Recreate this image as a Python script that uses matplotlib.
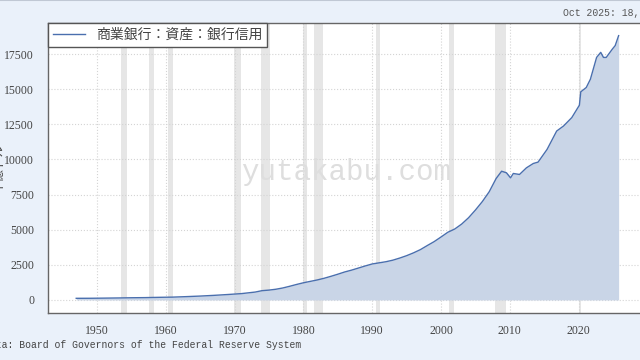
import numpy as np
import matplotlib
matplotlib.use('Agg')
import matplotlib.pyplot as plt
from matplotlib.lines import Line2D

plt.rcParams['font.family'] = ['Liberation Serif', 'Noto Sans CJK JP', 'DejaVu Sans']

# bank credit, all commercial banks (billions USD)
years = [1947, 1949, 1951, 1953, 1955, 1957, 1959, 1961, 1963, 1965, 1967, 1969,
         1971, 1973, 1974, 1975, 1976, 1977, 1978, 1979, 1980, 1981, 1982, 1983,
         1984, 1985, 1986, 1987, 1988, 1989, 1990, 1991, 1992, 1993, 1994, 1995,
         1996, 1997, 1998, 1999, 2000, 2001, 2002, 2003, 2004, 2005, 2006, 2007,
         2008.0, 2008.8, 2009.5, 2010.1, 2010.5, 2011.4, 2012.4, 2013.4, 2014.1,
         2015.4, 2016.8, 2017.8, 2019.0, 2020.1, 2020.3, 2021.1, 2021.7, 2022.6,
         2023.2, 2023.6, 2024.0, 2024.9, 2025.3, 2025.8]
credit = [115, 118, 128, 140, 155, 165, 185, 200, 235, 275, 325, 385,
          450, 560, 660, 700, 760, 850, 970, 1100, 1220, 1320, 1420, 1540,
          1680, 1830, 1990, 2120, 2270, 2420, 2560, 2640, 2720, 2830, 2980, 3150,
          3350, 3580, 3870, 4150, 4480, 4820, 5050, 5400, 5850, 6400, 7000, 7700,
          8640, 9160, 9050, 8690, 9000, 8930, 9400, 9710, 9810,
          10710, 12020, 12380, 12980, 13860, 14810, 15120, 15710, 17260,
          17620, 17260, 17260, 17860, 18100, 18810]

# NBER recessions
rec_start = [1953.5, 1957.6, 1960.3, 1969.9, 1973.8, 1980.0, 1981.5, 1990.5, 2001.2, 2007.9, 2020.1]
rec_end = [1954.4, 1958.3, 1961.1, 1970.9, 1975.2, 1980.5, 1982.9, 1991.2, 2001.9, 2009.5, 2020.3]

bg = '#eaf1fa'
line_c = '#4a6fae'

fig = plt.figure(figsize=(6.4, 3.6), dpi=100, facecolor=bg)
ax = fig.add_axes([48/640, 1-313/360, 0.94, (313-23)/360])
ax.set_facecolor('white')

for s, e in zip(rec_start, rec_end):
    ax.axvspan(s, e, color='#e6e6e6', lw=0, zorder=0)

ax.fill_between(years, credit, 0, color='#c9d5e7', lw=0, zorder=1)
ax.plot(years, credit, color=line_c, lw=1.0, zorder=2)

ax.set_xlim(1942.9, 2030.3)
ax.set_ylim(-930, 19710)
ax.set_xticks(range(1950, 2030, 10))
ax.set_yticks(range(0, 20000, 2500))
ax.grid(True, color='#d4d4d4', ls=':', lw=0.8)
ax.set_axisbelow(True)
ax.tick_params(length=0, labelsize=8.5, labelcolor='#444444')
ax.tick_params(axis='x', pad=9)
ax.tick_params(axis='y', pad=10)
for sp in ax.spines.values():
    sp.set_color('#666666')
    sp.set_linewidth(1.0)

ax.set_ylabel('十億ドル', family=['Noto Sans CJK JP'], fontsize=9, color='#444444')
ax.yaxis.set_label_coords(-0.071, 0.5)

handle = Line2D([], [], color=line_c, lw=1.0)
leg = ax.legend([handle], ['商業銀行：資産：銀行信用'], loc='upper left',
                borderaxespad=0, fancybox=False, framealpha=1,
                prop={'family': 'Noto Sans CJK JP', 'size': 10},
                handlelength=2.3, borderpad=0.35)
leg.get_frame().set_edgecolor('#555555')
leg.get_frame().set_linewidth(1.0)
for t in leg.get_texts():
    t.set_color('#444444')

fig.text(346/640, 1-172/360, 'yutakabu.com', ha='center', va='center',
         family='Liberation Mono', fontsize=21, color='#dedede', zorder=3)

fig.text(563/640, 1-13/360, 'Oct 2025: 18,812.3', family='Liberation Mono',
         fontsize=7, color='#555555', va='center', ha='left')
fig.text(301/640, 1-345/360, 'Data: Board of Governors of the Federal Reserve System',
         family='Liberation Mono', fontsize=7.0, color='#444444', va='center', ha='right')
fig.add_artist(Line2D([0, 1], [0.999, 0.999], color='#c0c8d4', lw=1.5,
                      transform=fig.transFigure))

fig.savefig('out.png', dpi=100, facecolor=bg)
